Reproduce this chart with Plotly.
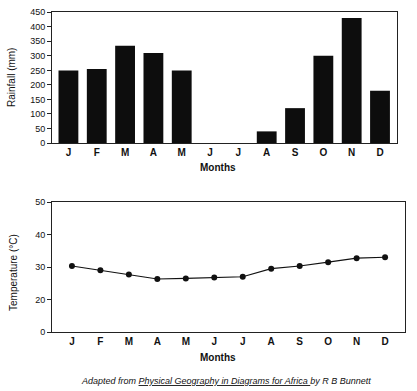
import plotly.graph_objects as go

months = ["J", "F", "M", "A", "M", "J", "J", "A", "S", "O", "N", "D"]
rainfall = [250, 255, 335, 310, 250, 0, 0, 40, 120, 300, 430, 180]
temperature = [30.3, 29.0, 27.7, 26.3, 26.5, 26.8, 27.0, 29.5, 30.3, 31.5, 32.7, 33.0]
rain_ticks = [0, 50, 100, 150, 200, 250, 300, 350, 400, 450]
# The temperature axis is broken: "0" sits where 10 would be on a linear scale
temp_tick_vals = [10, 20, 30, 40, 50]
temp_tick_text = ["0", "20", "30", "40", "50"]

x = list(range(len(months)))
W, H = 417, 391
FONT = "Liberation Sans, Arial, sans-serif"


def px(v):
    return v / W


def py(v):
    return (H - v) / H


fig = go.Figure()
fig.add_trace(go.Bar(x=x, y=rainfall, marker=dict(color="#0d0d0d", line=dict(width=0)),
                     xaxis="x", yaxis="y", showlegend=False))
fig.add_trace(go.Scatter(x=x, y=temperature, mode="lines+markers",
                         line=dict(color="#111", width=1.2),
                         marker=dict(color="#111", size=6),
                         xaxis="x2", yaxis="y2", showlegend=False))

axis_common = dict(showgrid=False, zeroline=False, showline=True, linecolor="#222",
                   linewidth=1, mirror=True)

ann = dict(xref="paper", yref="paper", showarrow=False, xanchor="center", yanchor="middle")

fig.update_layout(
    width=W, height=H,
    margin=dict(l=0, r=0, t=0, b=0),
    paper_bgcolor="white", plot_bgcolor="white",
    font=dict(family=FONT, color="#111", size=9),
    bargap=0.3,
    xaxis=dict(domain=[px(52), px(397)], range=[-0.58, 11.6], tickmode="array",
               tickvals=x, ticktext=months, ticks="", automargin=False,
               tickfont=dict(size=10, family=FONT, weight="bold"), anchor="y",
               **axis_common),
    yaxis=dict(domain=[py(143), py(12)], range=[0, 451], tickmode="array",
               tickvals=rain_ticks, ticks="outside", ticklen=4, tickcolor="#222",
               automargin=False, tickfont=dict(size=9), anchor="x", **axis_common),
    xaxis2=dict(domain=[px(52), px(405)], range=[-0.7, 11.7], tickmode="array",
                tickvals=x, ticktext=months, ticks="", automargin=False,
                tickfont=dict(size=10, family=FONT, weight="bold"), anchor="y2",
                **axis_common),
    yaxis2=dict(domain=[py(332), py(202)], range=[10, 50], tickmode="array",
                tickvals=temp_tick_vals, ticktext=temp_tick_text, ticks="outside",
                ticklen=4, tickcolor="#222", automargin=False, tickfont=dict(size=9),
                anchor="x2", **axis_common),
    annotations=[
        dict(text="Rainfall (mm)", x=px(11), y=py(78), textangle=-90,
             font=dict(size=10), **ann),
        dict(text="<b>Months</b>", x=px(218), y=py(167), font=dict(size=10), **ann),
        dict(text="Temperature (°C)", x=px(13), y=py(273), textangle=-90,
             font=dict(size=10), **ann),
        dict(text="<b>Months</b>", x=px(218), y=py(357), font=dict(size=10), **ann),
        dict(text="<i>Adapted from <u>Physical Geography in Diagrams for Africa </u>by R B Bunnett</i>",
             x=px(226), y=py(381), font=dict(size=9), **ann),
    ],
)

fig.write_html("out.html", config={"displayModeBar": False},
               post_script="document.body.style.margin='0px';")
